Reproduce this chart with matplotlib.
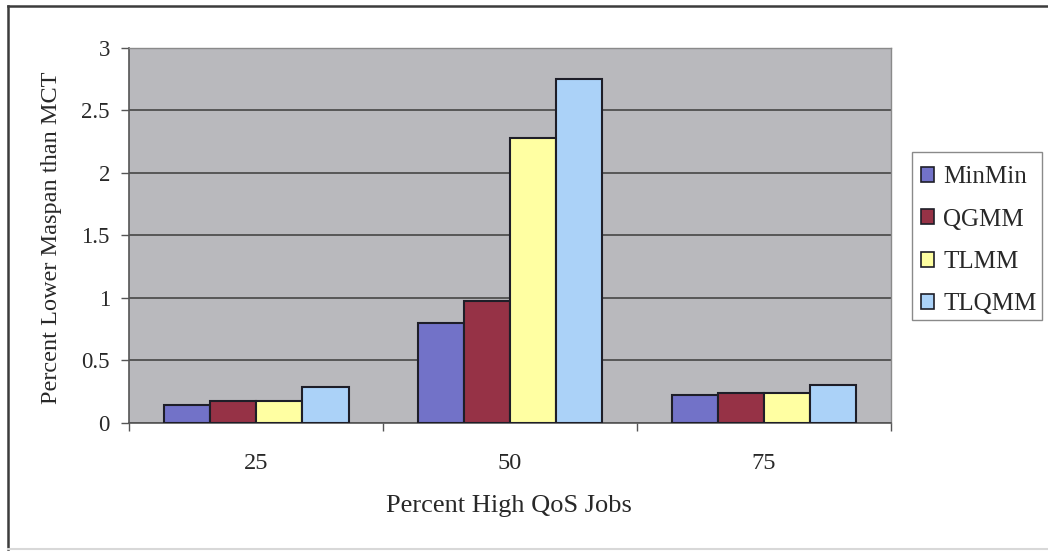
import matplotlib
matplotlib.use("Agg")
import matplotlib.pyplot as plt
from matplotlib.patches import Rectangle
from matplotlib.lines import Line2D
import numpy as np

plt.rcParams['font.family'] = ['Liberation Serif', 'DejaVu Serif']

categories = ["25", "50", "75"]
series_names = ["MinMin", "QGMM", "TLMM", "TLQMM"]
minmin = [0.145, 0.80, 0.22]
qgmm = [0.175, 0.97, 0.235]
tlmm = [0.17, 2.28, 0.235]
tlqmm = [0.285, 2.75, 0.30]
y_ticks = [0, 0.5, 1, 1.5, 2, 2.5, 3]
y_tick_labels = ["0", "0.5", "1", "1.5", "2", "2.5", "3"]

colors = ["#7272c8", "#963246", "#ffffa2", "#abd2f8"]
text_color = "#282828"

W, H = 1048, 551
fig = plt.figure(figsize=(W / 100, H / 100), dpi=100)
ax = fig.add_axes([0.1234, 0.2329, 0.7265, 0.6806])
ax.set_facecolor("#b9b9bd")

values = [minmin, qgmm, tlmm, tlqmm]
n = len(series_names)
width = 1.0 / (n + 1.5)
x = np.arange(len(categories))
for i, (name, vals) in enumerate(zip(series_names, values)):
    ax.bar(x + (i - (n - 1) / 2) * width, vals, width, color=colors[i],
           edgecolor="#1e1e28", linewidth=1.5, label=name, zorder=3)

ax.set_xlim(-0.5, len(categories) - 0.5)
ax.set_ylim(0, 3)
ax.set_yticks(y_ticks)
ax.set_yticklabels(y_tick_labels)
ax.yaxis.grid(True, color="#464646", linewidth=1.2, zorder=1)
ax.set_axisbelow(True)

# category boundaries carry the tick marks, category centres carry the labels
ax.set_xticks(np.arange(len(categories) + 1) - 0.5)
ax.set_xticklabels([])
ax.set_xticks(x, minor=True)
ax.set_xticklabels(categories, minor=True)
ax.tick_params(axis="x", which="major", length=6, width=1, color="#555555", direction="out")
ax.tick_params(axis="x", which="minor", length=0, pad=22, labelsize=17.5, labelcolor=text_color)
ax.tick_params(axis="y", length=6, width=1, color="#555555", direction="out",
               pad=8, labelsize=16.5, labelcolor=text_color)

for side in ["top", "right"]:
    ax.spines[side].set_color("#8a8a8a")
    ax.spines[side].set_linewidth(1.0)
for side in ["left", "bottom"]:
    ax.spines[side].set_color("#555555")
    ax.spines[side].set_linewidth(1.2)

fig.text(509 / W, 1 - 506 / H, "Percent High QoS Jobs", ha="center", va="center",
         fontsize=19, color=text_color)
fig.text(52 / W, 1 - 238 / H, "Percent Lower Maspan than MCT", rotation=90,
         ha="center", va="center", fontsize=17.5, color=text_color)

# legend box drawn as its own frame, entries placed inside it
fig.add_artist(Rectangle((912 / W, 1 - 320 / H), 130 / W, 168 / H,
                         transform=fig.transFigure, facecolor="white",
                         edgecolor="#8a8a8a", linewidth=1.0, zorder=2))
handles = [Rectangle((0, 0), 1, 1, facecolor=c, edgecolor="#1e1e28", linewidth=1.2)
           for c in colors]
leg = fig.legend(handles, series_names, loc="upper left",
                 bbox_to_anchor=(921 / W, 1 - 166 / H), fontsize=18, frameon=False,
                 handlelength=0.53, handleheight=0.53,
                 handletextpad=0.36, labelspacing=0.82, borderpad=0,
                 borderaxespad=0, labelcolor=text_color)
leg.set_zorder(3)

# outer chart frame
fig.add_artist(Line2D([8 / W, 8 / W], [1 - 549 / H, 1 - 6 / H],
                      transform=fig.transFigure, color="#3c3c3c", linewidth=1.8))
fig.add_artist(Line2D([8 / W, 1.0], [1 - 6 / H, 1 - 6 / H],
                      transform=fig.transFigure, color="#3c3c3c", linewidth=1.8))
fig.add_artist(Line2D([8 / W, 1.0], [1 - 549 / H, 1 - 549 / H],
                      transform=fig.transFigure, color="#d8d8d8", linewidth=1.5))

fig.savefig("out.png", dpi=100)
